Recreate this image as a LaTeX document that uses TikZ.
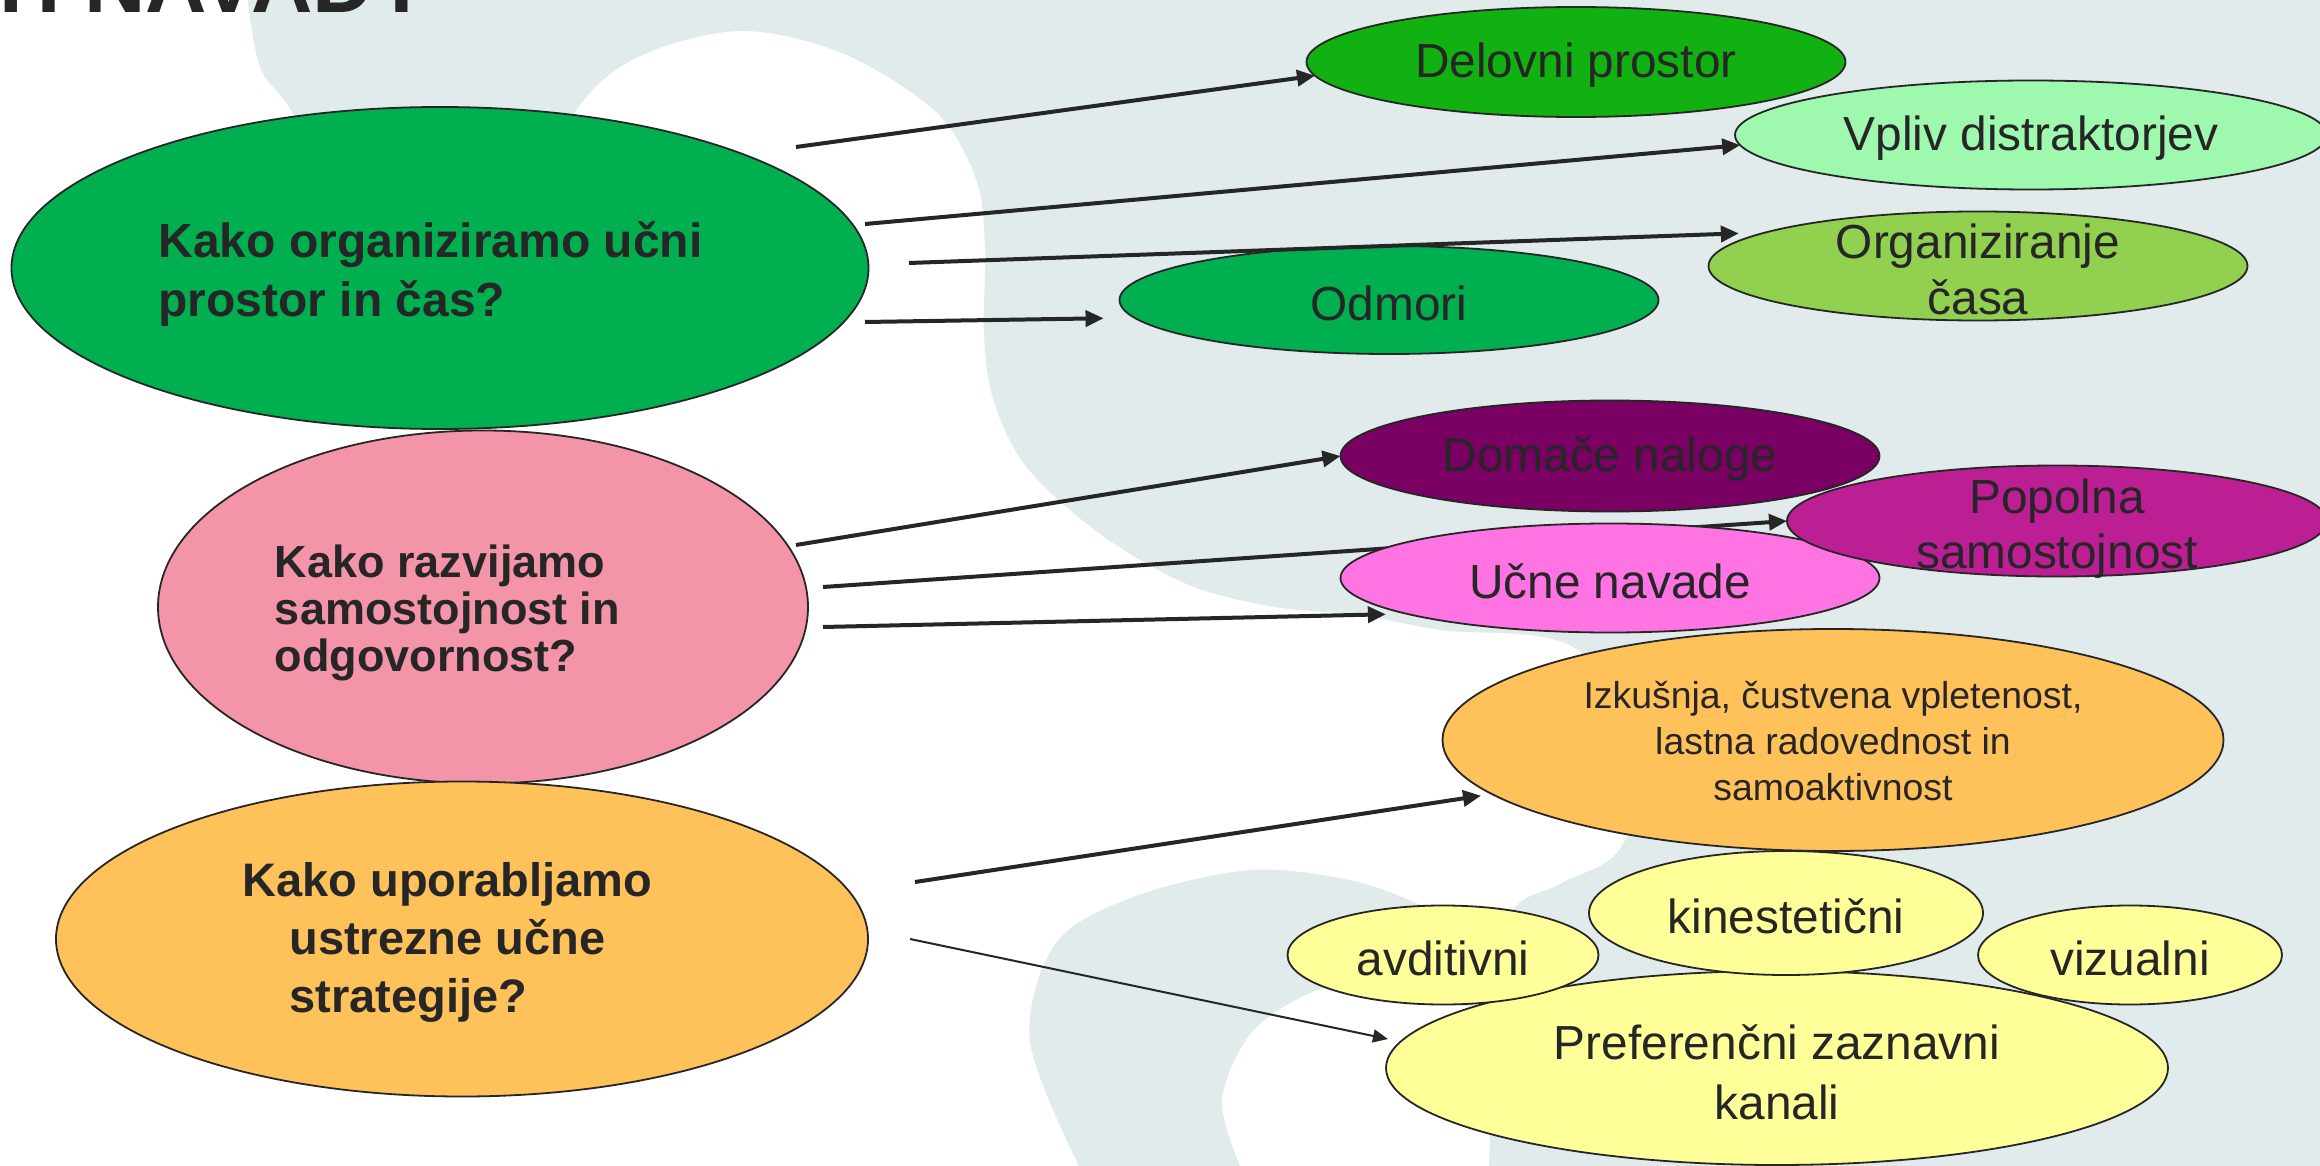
\documentclass[tikz,border=0pt]{standalone}
\usepackage{fontspec}
\setmainfont{Liberation Sans}
\usetikzlibrary{shapes.geometric,arrows.meta}
\pgfdeclarelayer{bgl}
\pgfdeclarelayer{midl}
\pgfsetlayers{bgl,midl,main}
\definecolor{bgc}{HTML}{E1EBEC}
\definecolor{ink}{HTML}{262626}
\definecolor{cgreen}{HTML}{00B050}
\definecolor{cdel}{HTML}{12B112}
\definecolor{cvpl}{HTML}{9EF8AE}
\definecolor{corg}{HTML}{92D050}
\definecolor{cdom}{HTML}{7A0064}
\definecolor{cpop}{HTML}{BC1E94}
\definecolor{cucn}{HTML}{FF73E2}
\definecolor{cpink}{HTML}{F394A8}
\definecolor{corange}{HTML}{FFC25A}
\definecolor{cyel}{HTML}{FFFF99}
\tikzset{
  oval/.style 2 args={ellipse, draw=ink, line width=0.9pt, inner sep=0pt, outer sep=0pt, minimum width=#1, minimum height=#2},
  qtxt/.style={text=ink, inner sep=0pt, font=\bfseries\fontsize{24pt}{29.5pt}\selectfont},
  rtxt/.style={text=ink, inner sep=0pt, align=center, yshift=-1.75pt, font=\fontsize{23.9pt}{28pt}\selectfont},
  arr/.style={draw=ink, line width=2pt, -{Triangle[length=9pt,width=8pt]}},
  arrthin/.style={draw=ink, line width=1pt, -{Triangle[length=7.5pt,width=6.5pt]}},
  ttl/.style={text=ink, inner sep=0pt, font=\bfseries\fontsize{42.5pt}{50pt}\selectfont}
}
\begin{document}
\begin{tikzpicture}[x=0.5pt,y=-0.5pt]
\useasboundingbox (0,0) rectangle (2320,1166);
\begin{pgfonlayer}{bgl}
\fill[white] (0,0) rectangle (2320,1166);
\fill[bgc] (247,-5) -- (2330,-5) -- (2330,1175) -- (1489,1175) --
  plot[smooth, tension=0.55] coordinates {(1489,1166) (1495,1040) (1509,917) (1560,884) (1619,850) (1645,760) (1575,648) (1440,630) (1360,615) (1275,607) (1189,585) (1103,536) (1028,469) (994,402) (984,335) (985,246) (976,179) (936,112) (844,54) (741,31) (638,57) (575,112) (520,230) (420,250) (330,190) (291,110) (260,67) (247,-5)} -- cycle;
\fill[bgc] (1079,1175) --
  plot[smooth, tension=0.55] coordinates {(1079,1166) (1030,1041) (1056,943) (1136,896) (1251,870) (1349,880) (1418,904) (1470,935) (1510,975)} -- (1495,1010) --
  plot[smooth, tension=0.55] coordinates {(1420,1000) (1360,985) (1308,994) (1251,1033) (1222,1100) (1240,1166)} -- (1242,1175) -- cycle;
\end{pgfonlayer}
\begin{scope}
\clip (0,0) rectangle (2320,1166);
\node[ttl, anchor=base west] (title) at (-1,13) {H NAVADY};
\end{scope}
% questions
\node[oval={428.5pt}{161pt}, fill=cgreen,
  label={[qtxt, align=left, xshift=-4.75pt, yshift=-3.25pt]center:{Kako organiziramo učni\\prostor in čas?}}] (q1) at (440,268) {};
\node[oval={325pt}{176.5pt}, fill=cpink,
  label={[qtxt, align=left, xshift=-17.75pt, yshift=-3pt, font=\bfseries\fontsize{22.5pt}{23.5pt}\selectfont]center:{Kako razvijamo\\samostojnost in\\odgovornost?}}] (q2) at (483,607) {};
\node[oval={406pt}{157.5pt}, fill=corange,
  label={[qtxt, align=center, xshift=-7.25pt, yshift=-1.5pt, font=\bfseries\fontsize{23.5pt}{29pt}\selectfont]center:{Kako uporabljamo\\ustrezne učne\\\rlap{strategije?}\phantom{ustrezne učne}}}] (q3) at (462,939) {};
% answers
\node[oval={269.5pt}{55pt}, fill=cdel, label={[rtxt]center:Delovni prostor}] (del) at (1576,62) {};
\node[oval={296pt}{54.5pt}, fill=cvpl, label={[rtxt]center:Vpliv distraktorjev}] (vpl) at (2031,135) {};
\node[oval={269.5pt}{54.5pt}, fill=corg, label={[rtxt]center:{Organiziranje\\časa}}] (org) at (1978,266) {};
\node[oval={269.5pt}{54pt}, fill=cgreen, label={[rtxt]center:Odmori}] (odm) at (1389,300) {};
\node[oval={269.5pt}{55.5pt}, fill=cdom, label={[rtxt]center:Domače naloge}] (dom) at (1610,456) {};
\node[oval={269.5pt}{54.5pt}, fill=cucn, label={[rtxt]center:Učne navade}] (ucn) at (1610,578) {};
\node[oval={270pt}{55.5pt}, fill=cpop, label={[rtxt, yshift=-2pt, font=\fontsize{23.9pt}{27.5pt}\selectfont]center:{Popolna\\samostojnost}}] (pop) at (2057,521) {};
\node[oval={390.5pt}{111pt}, fill=corange, label={[rtxt, yshift=1.25pt, font=\fontsize{18.7pt}{23pt}\selectfont]center:{Izkušnja, čustvena vpletenost,\\lastna radovednost in\\samoaktivnost}}] (izk) at (1833,740) {};
\node[oval={391pt}{97pt}, fill=cyel, label={[rtxt, yshift=-0.25pt, font=\fontsize{23.9pt}{30pt}\selectfont]center:{Preferenčni zaznavni\\kanali}}] (pre) at (1777,1068) {};
\node[oval={155.5pt}{49.5pt}, fill=cyel, label={[rtxt]center:avditivni}] (avd) at (1443,955) {};
\node[oval={197pt}{62pt}, fill=cyel, label={[rtxt]center:kinestetični}] (kin) at (1786,913) {};
\node[oval={152pt}{49.5pt}, fill=cyel, label={[rtxt]center:vizualni}] (viz) at (2130,955) {};
% connector start points
\coordinate (s1) at (796,147);
\coordinate (s2) at (865,224);
\coordinate (s3) at (909,263);
\coordinate (s4) at (865,322);
\coordinate (s5) at (796,545);
\coordinate (s6) at (823,587);
\coordinate (s7) at (823,627);
\coordinate (s8) at (915,882);
\coordinate (s9) at (910,939);
\draw[arr] (s1) -- (del.183);
\draw[arr] (s2) -- (vpl.182);
\draw[arr, shorten >=13.5pt] (s3) -- (org.171);
\draw[arr, shorten >=15.5pt] (s4) -- (odm.184);
\draw[arr] (s5) -- (dom.west);
\begin{pgfonlayer}{midl}
\draw[arr] (s6) -- (pop.west);
\end{pgfonlayer}
\draw[arr, shorten >=10.5pt] (s7) -- (ucn.190);
\draw[arr, shorten >=5.5pt] (s8) -- (izk.189);
\draw[arrthin, shorten >=6.5pt] (s9) -- (pre.176);
\end{tikzpicture}
\end{document}
